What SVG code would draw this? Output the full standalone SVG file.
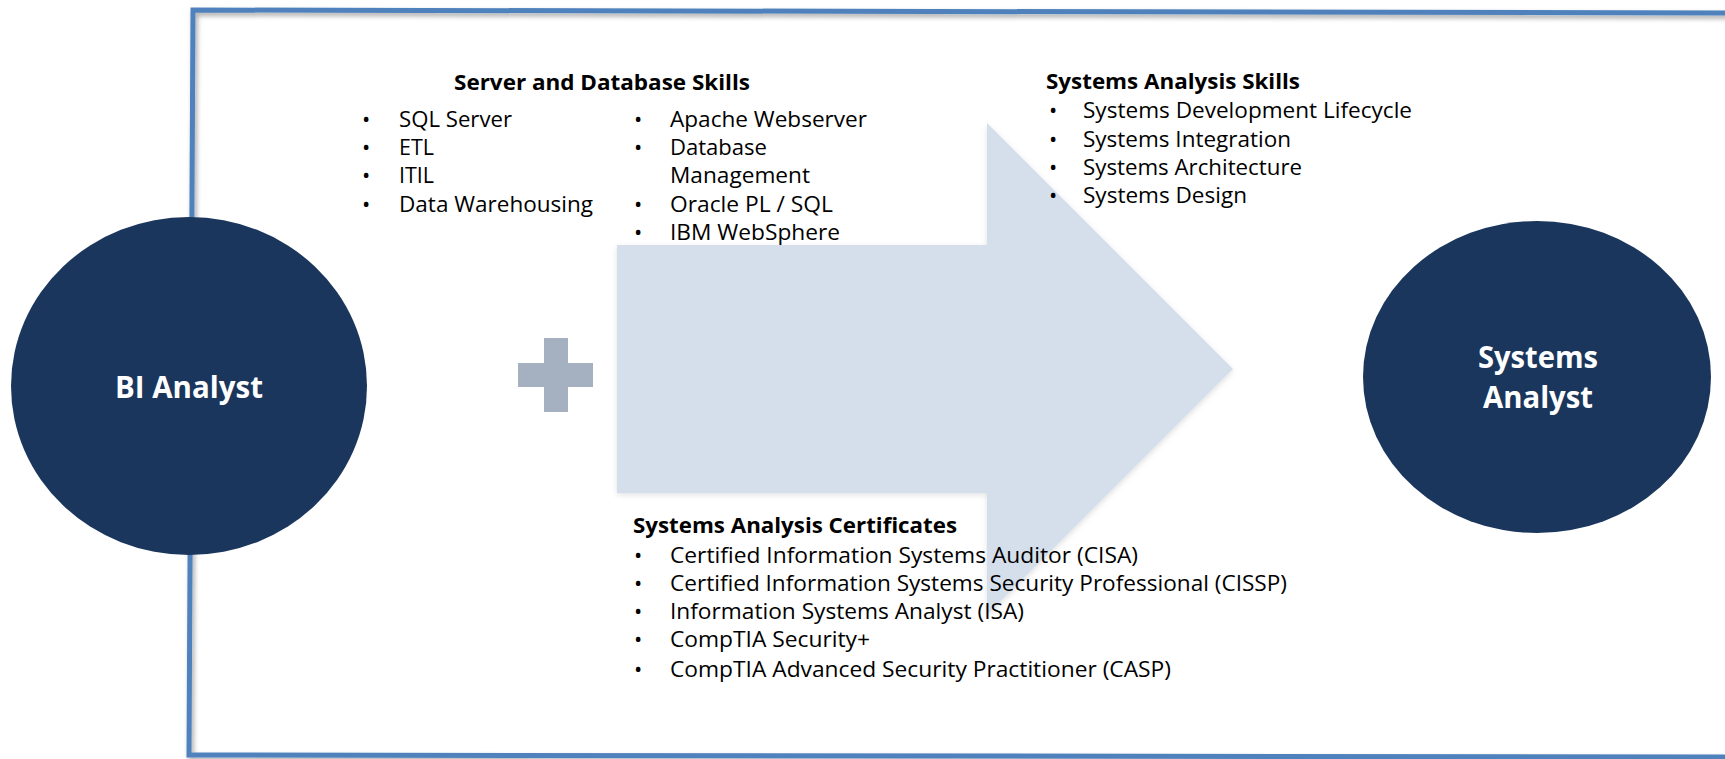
<svg xmlns="http://www.w3.org/2000/svg" width="1725" height="759" viewBox="0 0 1725 759">
<style>
.t{font-family:"Open Sans","Noto Sans","DejaVu Sans",sans-serif;font-size:22px;fill:#000}
.h{font-family:"Open Sans","Noto Sans","DejaVu Sans",sans-serif;font-size:22px;font-weight:700;fill:#000}
.c{font-family:"Open Sans","Noto Sans","DejaVu Sans",sans-serif;font-size:31px;font-weight:700;fill:#fff;text-anchor:middle}
.node{fill:#1b365d}
</style>
<defs>
<filter id="sh" x="-5%" y="-5%" width="110%" height="110%">
<feGaussianBlur in="SourceAlpha" stdDeviation="2.5"/>
<feOffset dx="2" dy="3" result="b"/>
<feComponentTransfer><feFuncA type="linear" slope="0.35"/></feComponentTransfer>
<feMerge><feMergeNode/><feMergeNode in="SourceGraphic"/></feMerge>
</filter>
<filter id="ash" x="-5%" y="-5%" width="110%" height="110%">
<feGaussianBlur in="SourceAlpha" stdDeviation="3"/>
<feOffset dx="0" dy="2"/>
<feComponentTransfer><feFuncA type="linear" slope="0.12"/></feComponentTransfer>
<feMerge><feMergeNode/><feMergeNode in="SourceGraphic"/></feMerge>
</filter>
</defs>
<rect width="1725" height="759" fill="#fff"/>
<g id="frame">
<path d="M1727,13 L193,10 L189,755 L1727,757" fill="none" stroke="#4f81bd" stroke-width="5" filter="url(#sh)"/>
</g>
<g id="connectors">
<path d="M617,245 L987,245 L987,123 L1233,369 L987,615 L987,493 L617,493 Z" fill="#d5dfeb" filter="url(#ash)"/>
</g>
<g id="plus">
<rect x="544" y="338" width="24" height="74" fill="#a5b1c0"/>
<rect x="518" y="363" width="75" height="24" fill="#a5b1c0"/>
</g>
<g id="bi-analyst">
<ellipse class="node" cx="189" cy="386" rx="178" ry="169"/>
<text class="c" x="189" y="398" textLength="148" lengthAdjust="spacingAndGlyphs">BI Analyst</text>
</g>
<g id="systems-analyst">
<ellipse class="node" cx="1537" cy="377" rx="174" ry="156"/>
<text class="c" x="1538" y="368" textLength="120" lengthAdjust="spacingAndGlyphs">Systems</text>
<text class="c" x="1538" y="408" textLength="110" lengthAdjust="spacingAndGlyphs">Analyst</text>
</g>
<g id="server-db-skills">
<text class="h" x="454" y="90" textLength="296" lengthAdjust="spacingAndGlyphs">Server and Database Skills</text>
<text class="t" x="362" y="127">•</text>
<text class="t" x="399" y="127" textLength="113" lengthAdjust="spacingAndGlyphs">SQL Server</text>
<text class="t" x="362" y="155">•</text>
<text class="t" x="399" y="155" textLength="35" lengthAdjust="spacingAndGlyphs">ETL</text>
<text class="t" x="362" y="183">•</text>
<text class="t" x="399" y="183" textLength="35" lengthAdjust="spacingAndGlyphs">ITIL</text>
<text class="t" x="362" y="212">•</text>
<text class="t" x="399" y="212" textLength="194" lengthAdjust="spacingAndGlyphs">Data Warehousing</text>
<text class="t" x="634" y="127">•</text>
<text class="t" x="670" y="127" textLength="197" lengthAdjust="spacingAndGlyphs">Apache Webserver</text>
<text class="t" x="634" y="155">•</text>
<text class="t" x="670" y="155" textLength="97" lengthAdjust="spacingAndGlyphs">Database</text>
<text class="t" x="670" y="183" textLength="140" lengthAdjust="spacingAndGlyphs">Management</text>
<text class="t" x="634" y="212">•</text>
<text class="t" x="670" y="212" textLength="163" lengthAdjust="spacingAndGlyphs">Oracle PL / SQL</text>
<text class="t" x="634" y="240">•</text>
<text class="t" x="670" y="240" textLength="170" lengthAdjust="spacingAndGlyphs">IBM WebSphere</text>
</g>
<g id="systems-analysis-skills">
<text class="h" x="1046" y="89" textLength="254" lengthAdjust="spacingAndGlyphs">Systems Analysis Skills</text>
<text class="t" x="1049" y="118">•</text>
<text class="t" x="1083" y="118" textLength="329" lengthAdjust="spacingAndGlyphs">Systems Development Lifecycle</text>
<text class="t" x="1049" y="147">•</text>
<text class="t" x="1083" y="147" textLength="208" lengthAdjust="spacingAndGlyphs">Systems Integration</text>
<text class="t" x="1049" y="175">•</text>
<text class="t" x="1083" y="175" textLength="219" lengthAdjust="spacingAndGlyphs">Systems Architecture</text>
<text class="t" x="1049" y="203">•</text>
<text class="t" x="1083" y="203" textLength="164" lengthAdjust="spacingAndGlyphs">Systems Design</text>
</g>
<g id="systems-analysis-certificates">
<text class="h" x="633" y="533" textLength="324" lengthAdjust="spacingAndGlyphs">Systems Analysis Certificates</text>
<text class="t" x="634" y="563">•</text>
<text class="t" x="670" y="563" textLength="468" lengthAdjust="spacingAndGlyphs">Certified Information Systems Auditor (CISA)</text>
<text class="t" x="634" y="591">•</text>
<text class="t" x="670" y="591" textLength="617" lengthAdjust="spacingAndGlyphs">Certified Information Systems Security Professional (CISSP)</text>
<text class="t" x="634" y="619">•</text>
<text class="t" x="670" y="619" textLength="354" lengthAdjust="spacingAndGlyphs">Information Systems Analyst (ISA)</text>
<text class="t" x="634" y="647">•</text>
<text class="t" x="670" y="647" textLength="200" lengthAdjust="spacingAndGlyphs">CompTIA Security+</text>
<text class="t" x="634" y="677">•</text>
<text class="t" x="670" y="677" textLength="501" lengthAdjust="spacingAndGlyphs">CompTIA Advanced Security Practitioner (CASP)</text>
</g>
</svg>
